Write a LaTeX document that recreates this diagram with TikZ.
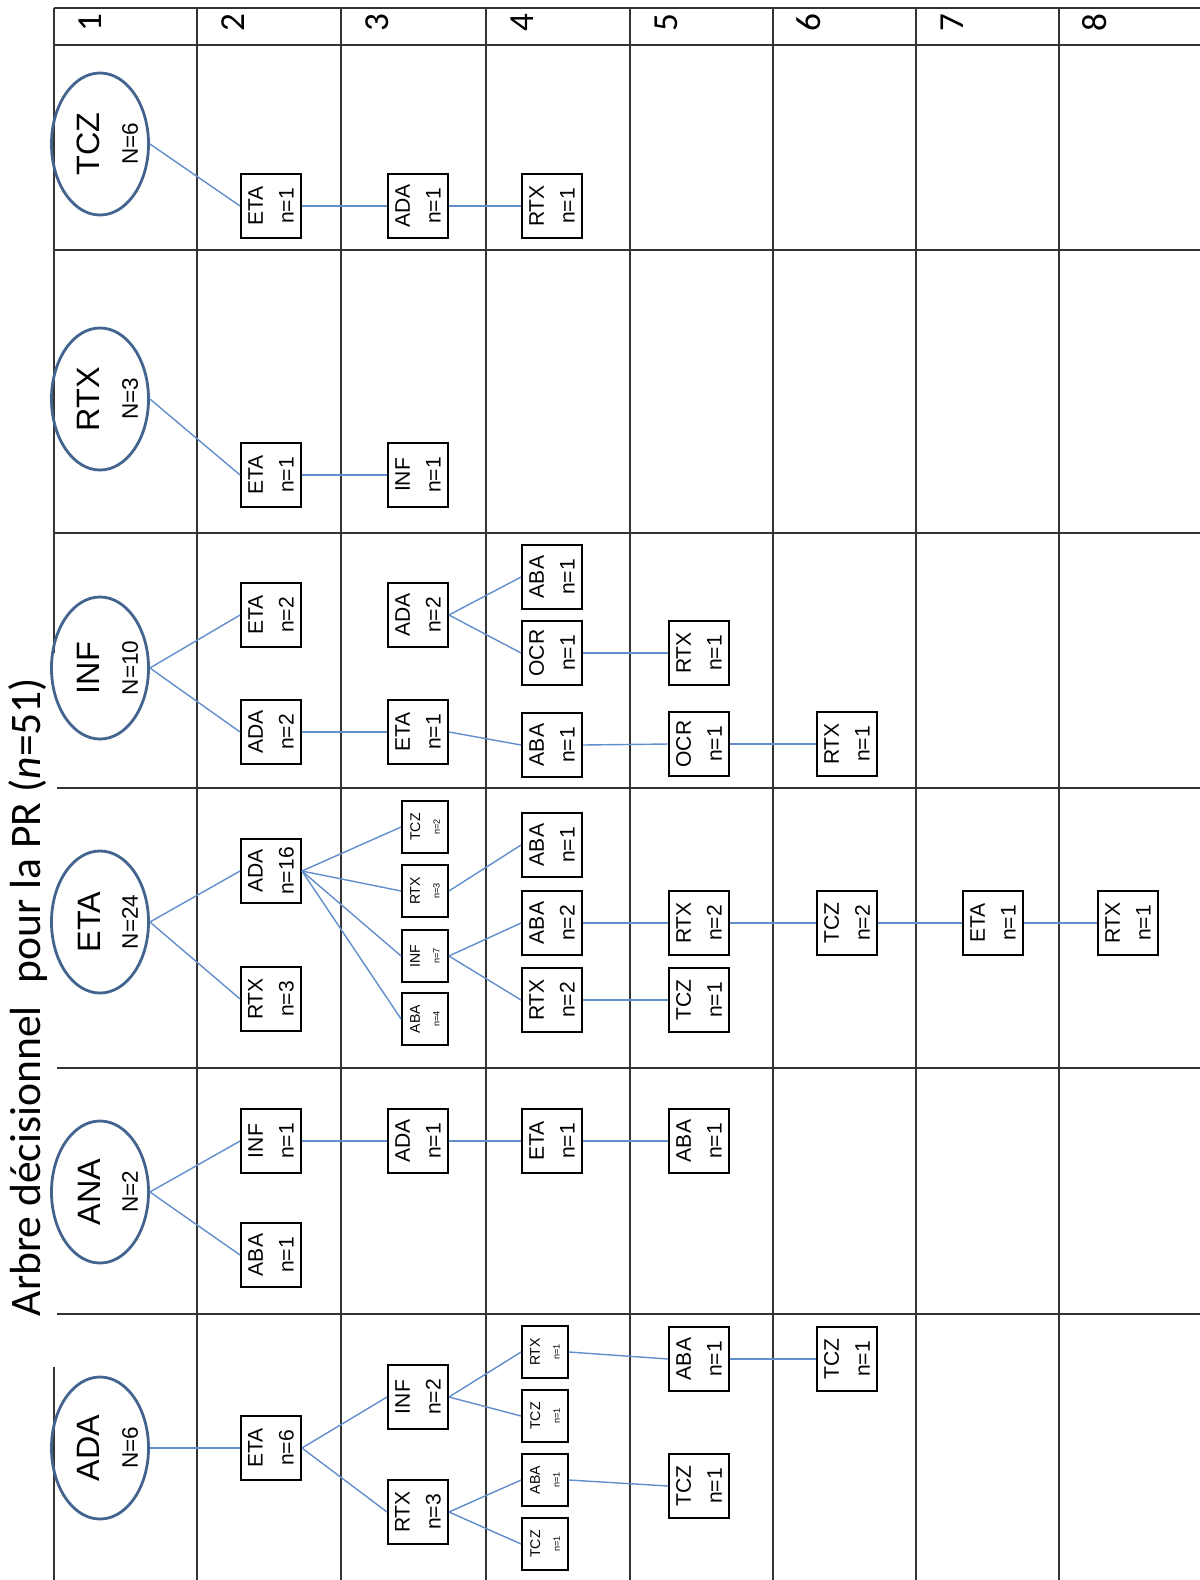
\documentclass[tikz,border=0pt]{standalone}
\usepackage{fontspec}
\setmainfont{Liberation Sans}
\newfontfamily\calib{Carlito}
\usetikzlibrary{shapes.geometric}
\definecolor{linkblue}{RGB}{98,142,204}
\definecolor{rootblue}{RGB}{66,100,142}
\newcommand{\rootlab}[2]{\rule{0pt}{27pt}#1\\{\fontsize{16}{27}\selectfont #2}}
\newcommand{\ntiny}[1]{{\fontsize{6.5}{14}\selectfont #1}}

\begin{document}
\begin{tikzpicture}[x=0.025cm,y=-0.025cm,
  rule/.style={draw=black!80,line width=1.6pt},
  root/.style={ellipse,draw=rootblue,line width=2pt,rotate=90,minimum width=101pt,minimum height=69pt,inner sep=-5pt,align=center,font=\fontsize{23}{27}\selectfont},
  leaf/.style={draw,line width=1.3pt,rotate=90,minimum width=45.5pt,minimum height=42.7pt,inner sep=0pt,align=center,fill=white,font=\fontsize{15}{22}\selectfont},
  smallleaf/.style={leaf,minimum width=37pt,minimum height=32.7pt,font=\fontsize{10}{14}\selectfont},
  link/.style={draw=linkblue,line width=1pt},
  colnum/.style={rotate=90,anchor=base,font=\calib\fontsize{25}{25}\selectfont}]
\useasboundingbox (0,0) rectangle (1200,1580);
% grid
\draw[rule] (54,8) -- (1200,8);
\draw[rule] (54,45) -- (1200,45);
\draw[rule] (54,250) -- (1200,250);
\draw[rule] (54,533) -- (1200,533);
\draw[rule] (54,788) -- (1200,788);
\draw[rule] (54,1068) -- (1200,1068);
\draw[rule] (54,1314) -- (1200,1314);
\draw[rule] (54,8) -- (54,1580);
\draw[rule] (197,8) -- (197,1580);
\draw[rule] (341,8) -- (341,1580);
\draw[rule] (486,8) -- (486,1580);
\draw[rule] (630,8) -- (630,1580);
\draw[rule] (773,8) -- (773,1580);
\draw[rule] (916,8) -- (916,1580);
\draw[rule] (1059,8) -- (1059,1580);
\fill[white] (0,653) rectangle (57,1367);
\node[rotate=90,anchor=base,font=\calib\fontsize{31}{31}\selectfont] (title) at (40,997) {Arbre décisionnel\hspace{0.3em} pour la PR (\textit{n}=51)};
% level numbers
\node[colnum] (h1) at (101,23) {1};
\node[colnum] (h2) at (244,23) {2};
\node[colnum] (h3) at (388,23) {3};
\node[colnum] (h4) at (533,23) {4};
\node[colnum] (h5) at (677,23) {5};
\node[colnum] (h6) at (820,23) {6};
\node[colnum] (h7) at (963,23) {7};
\node[colnum] (h8) at (1106,23) {8};
% TCZ
\node[root] (t) at (100,144) {\rootlab{TCZ}{N=6}};
\node[leaf] (t2) at (271,206) {ETA\\n=1};
\node[leaf] (t3) at (418,206) {ADA\\n=1};
\node[leaf] (t4) at (552,206) {RTX\\n=1};
\draw[link] (t.south) -- (t2.north);
\draw[link] (t2.south) -- (t3.north);
\draw[link] (t3.south) -- (t4.north);
% RTX
\node[root] (r) at (100,399) {\rootlab{RTX}{N=3}};
\node[leaf] (r2) at (271,475) {ETA\\n=1};
\node[leaf] (r3) at (418,475) {INF\\n=1};
\draw[link] (r.south) -- (r2.north);
\draw[link] (r2.south) -- (r3.north);
% INF
\node[root] (i) at (100,668) {\rootlab{INF}{N=10}};
\node[leaf] (i2a) at (271,615) {ETA\\n=2};
\node[leaf] (i2b) at (271,732) {ADA\\n=2};
\node[leaf] (i3a) at (418,615) {ADA\\n=2};
\node[leaf] (i3b) at (418,732) {ETA\\n=1};
\node[leaf] (i4a) at (552,577) {ABA\\n=1};
\node[leaf] (i4b) at (552,653) {OCR\\n=1};
\node[leaf] (i4c) at (552,745) {ABA\\n=1};
\node[leaf] (i5a) at (699,653) {RTX\\n=1};
\node[leaf] (i5b) at (699,744) {OCR\\n=1};
\node[leaf] (i6) at (847,744) {RTX\\n=1};
\draw[link] (i.south) -- (i2a.north);
\draw[link] (i.south) -- (i2b.north);
\draw[link] (i2b.south) -- (i3b.north);
\draw[link] (i3a.south) -- (i4a.north);
\draw[link] (i3a.south) -- (i4b.north);
\draw[link] (i3b.south) -- (i4c.north);
\draw[link] (i4b.south) -- (i5a.north);
\draw[link] (i4c.south) -- (i5b.north);
\draw[link] (i5b.south) -- (i6.north);
% ETA
\node[root] (e) at (100,922) {\rootlab{ETA}{N=24}};
\node[leaf] (e2a) at (271,871) {ADA\\n=16};
\node[leaf] (e2b) at (271,999) {RTX\\n=3};
\node[smallleaf] (e3a) at (425,827) {TCZ\\\ntiny{n=2}};
\node[smallleaf] (e3b) at (425,891) {RTX\\\ntiny{n=3}};
\node[smallleaf] (e3c) at (425,956) {INF\\\ntiny{n=7}};
\node[smallleaf] (e3d) at (425,1019) {ABA\\\ntiny{n=4}};
\node[leaf] (e4a) at (552,845) {ABA\\n=1};
\node[leaf] (e4b) at (552,923) {ABA\\n=2};
\node[leaf] (e4c) at (552,1000) {RTX\\n=2};
\node[leaf] (e5a) at (699,923) {RTX\\n=2};
\node[leaf] (e5b) at (699,1000) {TCZ\\n=1};
\node[leaf] (e6) at (847,923) {TCZ\\n=2};
\node[leaf] (e7) at (993,923) {ETA\\n=1};
\node[leaf] (e8) at (1128,923) {RTX\\n=1};
\draw[link] (e.south) -- (e2a.north);
\draw[link] (e.south) -- (e2b.north);
\draw[link] (e2a.south) -- (e3a.north);
\draw[link] (e2a.south) -- (e3b.north);
\draw[link] (e2a.south) -- (e3c.north);
\draw[link] (e2a.south) -- (e3d.north);
\draw[link] (e3b.south) -- (e4a.north);
\draw[link] (e3c.south) -- (e4b.north);
\draw[link] (e3c.south) -- (e4c.north);
\draw[link] (e4b.south) -- (e5a.north);
\draw[link] (e4c.south) -- (e5b.north);
\draw[link] (e5a.south) -- (e6.north);
\draw[link] (e6.south) -- (e7.north);
\draw[link] (e7.south) -- (e8.north);
% ANA
\node[root] (n) at (100,1192) {\rootlab{ANA}{N=2}};
\node[leaf] (n2a) at (271,1141) {INF\\n=1};
\node[leaf] (n2b) at (271,1255) {ABA\\n=1};
\node[leaf] (n3) at (418,1141) {ADA\\n=1};
\node[leaf] (n4) at (552,1141) {ETA\\n=1};
\node[leaf] (n5) at (699,1141) {ABA\\n=1};
\draw[link] (n.south) -- (n2a.north);
\draw[link] (n.south) -- (n2b.north);
\draw[link] (n2a.south) -- (n3.north);
\draw[link] (n3.south) -- (n4.north);
\draw[link] (n4.south) -- (n5.north);
% ADA
\node[root] (a) at (100,1448) {\rootlab{ADA}{N=6}};
\node[leaf] (a2) at (271,1448) {ETA\\n=6};
\node[leaf] (a3a) at (418,1397) {INF\\n=2};
\node[leaf] (a3b) at (418,1512) {RTX\\n=3};
\node[smallleaf] (a4a) at (545,1352) {RTX\\\ntiny{n=1}};
\node[smallleaf] (a4b) at (545,1416) {TCZ\\\ntiny{n=1}};
\node[smallleaf] (a4c) at (545,1480) {ABA\\\ntiny{n=1}};
\node[smallleaf] (a4d) at (545,1544) {TCZ\\\ntiny{n=1}};
\node[leaf] (a5a) at (699,1359) {ABA\\n=1};
\node[leaf] (a5b) at (699,1486) {TCZ\\n=1};
\node[leaf] (a6) at (847,1359) {TCZ\\n=1};
\draw[link] (a.south) -- (a2.north);
\draw[link] (a2.south) -- (a3a.north);
\draw[link] (a2.south) -- (a3b.north);
\draw[link] (a3a.south) -- (a4a.north);
\draw[link] (a3a.south) -- (a4b.north);
\draw[link] (a3b.south) -- (a4c.north);
\draw[link] (a3b.south) -- (a4d.north);
\draw[link] (a4a.south) -- (a5a.north);
\draw[link] (a4c.south) -- (a5b.north);
\draw[link] (a5a.south) -- (a6.north);
\end{tikzpicture}
\end{document}
